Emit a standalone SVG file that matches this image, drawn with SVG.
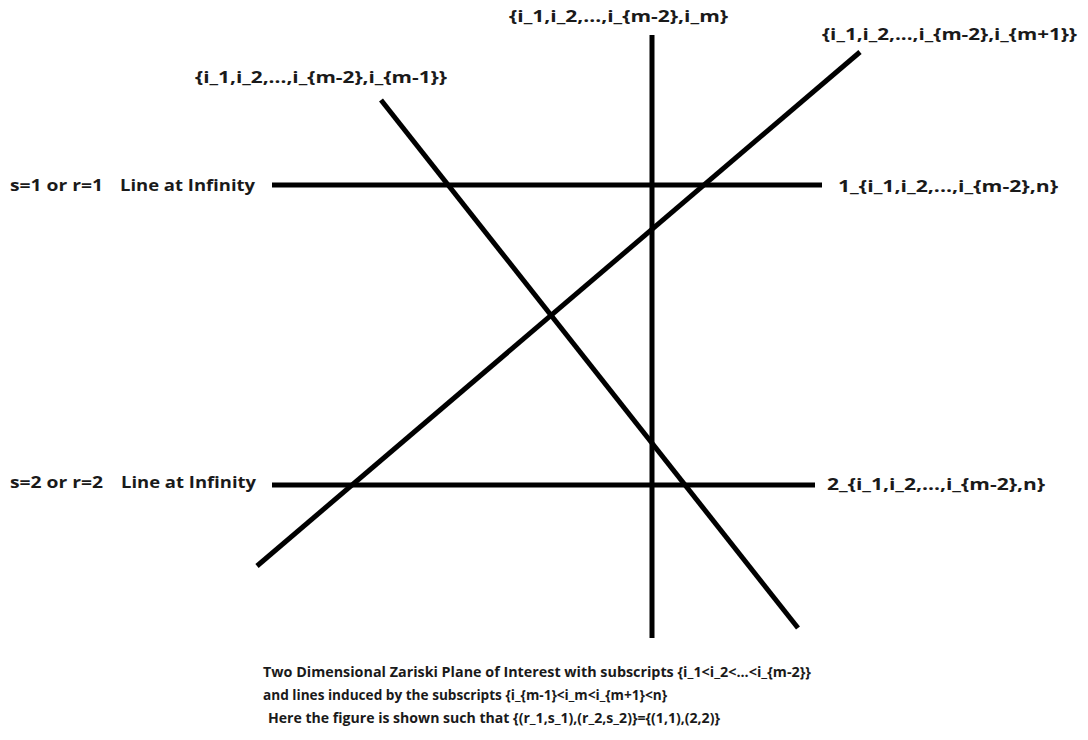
<svg xmlns="http://www.w3.org/2000/svg" width="1088" height="740" viewBox="0 0 1088 740">
<style>
.t{font-family:"Open Sans","Liberation Sans",sans-serif;font-weight:bold;font-size:15.5px;fill:#1a1a1a}
.c{font-size:14.5px}
.ln{stroke:#000;stroke-width:5;stroke-linecap:butt;fill:none}
</style>
<rect width="1088" height="740" fill="#fff"/>
<g id="connectors">
<line class="ln" x1="272" y1="185" x2="822" y2="185"/>
<line class="ln" x1="272" y1="485" x2="815" y2="485"/>
<line class="ln" x1="652" y1="35" x2="652" y2="638"/>
<line class="ln" x1="381" y1="100" x2="798" y2="628"/>
<line class="ln" x1="257" y1="566" x2="860" y2="52"/>
</g>
<g id="label-im"><text class="t" x="509" y="22" textLength="219" lengthAdjust="spacingAndGlyphs">{i_1,i_2,...,i_{m-2},i_m}</text></g>
<g id="label-im1"><text class="t" x="822" y="40" textLength="255" lengthAdjust="spacingAndGlyphs">{i_1,i_2,...,i_{m-2},i_{m+1}}</text></g>
<g id="label-imm1"><text class="t" x="195" y="83" textLength="252" lengthAdjust="spacingAndGlyphs">{i_1,i_2,...,i_{m-2},i_{m-1}}</text></g>
<g id="label-s1"><text class="t" x="10" y="191" textLength="93" lengthAdjust="spacingAndGlyphs">s=1 or r=1</text>
<text class="t" x="120" y="191" textLength="135" lengthAdjust="spacingAndGlyphs">Line at Infinity</text></g>
<g id="label-1"><text class="t" x="838" y="192" textLength="220" lengthAdjust="spacingAndGlyphs">1_{i_1,i_2,...,i_{m-2},n}</text></g>
<g id="label-s2"><text class="t" x="10" y="488" textLength="93" lengthAdjust="spacingAndGlyphs">s=2 or r=2</text>
<text class="t" x="121" y="488" textLength="135" lengthAdjust="spacingAndGlyphs">Line at Infinity</text></g>
<g id="label-2"><text class="t" x="827" y="490" textLength="218" lengthAdjust="spacingAndGlyphs">2_{i_1,i_2,...,i_{m-2},n}</text></g>
<g id="caption">
<text class="t c" x="263" y="677" textLength="548" lengthAdjust="spacingAndGlyphs">Two Dimensional Zariski Plane of Interest with subscripts {i_1&lt;i_2&lt;...&lt;i_{m-2}}</text>
<text class="t c" x="263" y="700" textLength="404" lengthAdjust="spacingAndGlyphs">and lines induced by the subscripts {i_{m-1}&lt;i_m&lt;i_{m+1}&lt;n}</text>
<text class="t c" x="268" y="723" textLength="452" lengthAdjust="spacingAndGlyphs">Here the figure is shown such that {(r_1,s_1),(r_2,s_2)}={(1,1),(2,2)}</text>
</g>
</svg>
